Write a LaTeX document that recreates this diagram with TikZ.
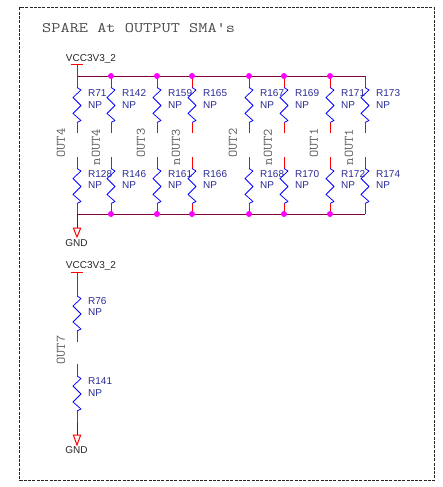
\documentclass[tikz,border=0pt]{standalone}
\usepackage{fontspec}
\setmainfont{Liberation Sans}
\definecolor{railc}{HTML}{800040}
\definecolor{labc}{HTML}{2B2B95}
\definecolor{dotc}{HTML}{FF00FF}
\tikzset{
  x=1pt,y=-1pt,
  pinw/.style={draw=red,line width=1pt},
  railw/.style={draw=railc,line width=1pt},
  zigw/.style={draw=blue,line width=0.75pt},
  junc/.style={circle,fill=dotc,draw=none,minimum size=6pt,inner sep=0pt},
  reflab/.style={anchor=west,inner sep=0pt,text=labc,font=\fontsize{10}{10}\selectfont},
  netlab/.style={inner sep=0pt,text=black!85,font=\fontsize{10}{10}\selectfont},
  vertlab/.style={rotate=90,inner sep=0pt,text=black!65,font=\ttfamily\fontsize{13}{13}\selectfont},
  titlelab/.style={anchor=west,inner sep=0pt,text=black!70,font=\ttfamily\fontsize{14.5}{14.5}\selectfont},
  framew/.style={draw=black!85,line width=1pt,dash pattern=on 3pt off 1.3pt},
  gndtri/.style={draw=red,line width=1pt,line join=miter}
}
\newcommand{\zigzag}[1]{%
  \draw[zigw,line join=round] (#1) -- ++(4,2.5) -- ++(-8,7.5) -- ++(8,8) -- ++(-8,8) -- ++(8,7) -- ++(-4,2);
}
\begin{document}
\begin{tikzpicture}
\useasboundingbox (0,0) rectangle (443,487);
\node[framew,draw,rectangle,inner sep=0pt,minimum width=415pt,minimum height=473pt,anchor=north west] (frame) at (19,7) {};
\node[titlelab] (title) at (42,28) {\scalebox{1.23}[1]{SPARE At OUTPUT SMA's}};

\coordinate (railTL) at (77,76);
\coordinate (railTR) at (365,76);
\coordinate (railBL) at (77,214);
\coordinate (railBR) at (365,214);
\draw[railw] (railTL) -- (railTR);
\draw[railw] (railBL) -- (railBR);

\foreach \nm/\cx/\ra/\rb in {a/77/R71/R128,b/111/R142/R146,c/157/R159/R161,d/192/R165/R166,e/249/R167/R168,f/284/R169/R170,g/330/R171/R172,h/365/R173/R174}{
  \coordinate (\nm T) at (\cx,76);
  \coordinate (\nm A) at (\cx,87.5);
  \coordinate (\nm B) at (\cx,122.5);
  \coordinate (\nm C) at (\cx,133);
  \coordinate (\nm D) at (\cx,157);
  \coordinate (\nm E) at (\cx,168.5);
  \coordinate (\nm F) at (\cx,203.5);
  \coordinate (\nm G) at (\cx,214);
  \draw[pinw] (\nm T) -- (\nm A);
  \draw[pinw] (\nm B) -- (\nm C);
  \draw[pinw] (\nm D) -- (\nm E);
  \draw[pinw] (\nm F) -- (\nm G);
  \zigzag{\nm A}
  \zigzag{\nm E}
  \node[reflab] (\nm r1) at (\cx+11,93) {\ra};
  \node[reflab] (\nm n1) at (\cx+11,105) {NP};
  \node[reflab] (\nm r2) at (\cx+11,174) {\rb};
  \node[reflab] (\nm n2) at (\cx+11,185.5) {NP};
}
\foreach \nm in {b,c,d,e,f,g}{
  \node[junc] (\nm J1) at (\nm T) {};
  \node[junc] (\nm J2) at (\nm G) {};
}

\foreach \nm/\cx/\cy/\tx in {oa/61/143/OUT4,ob/96/147/nOUT4,oc/141/143/OUT3,od/176/147/nOUT3,oe/233/143/OUT2,of/268/147/nOUT2,og/314/143/OUT1,oh/349/147/nOUT1,oi/61/350/OUT7}{
  \node[vertlab] (\nm) at (\cx,\cy) {\scalebox{1.08}[1]{\tx}};
}

\node[netlab] (vcc1) at (91,59.5) {VCC3V3\_2};
\coordinate (vcc1L) at (71,65);
\coordinate (vcc1R) at (83,65);
\coordinate (vcc1P) at (77,65);
\draw[pinw] (vcc1L) -- (vcc1R);
\draw[pinw] (vcc1P) -- (aT);
\coordinate (gnd1T) at (77,228);
\draw[railw] (aG) -- (gnd1T);
\draw[gndtri] (73.3,228) -- (80.7,228) -- (77,237) -- cycle;
\node[netlab] (gnd1) at (76.5,243.5) {GND};

\node[netlab] (vcc2) at (91,266) {VCC3V3\_2};
\coordinate (vcc2L) at (71,272);
\coordinate (vcc2R) at (83,272);
\coordinate (vcc2P) at (77,272);
\coordinate (iA) at (77,296);
\coordinate (iB) at (77,331);
\coordinate (iC) at (77,342);
\coordinate (iD) at (77,364);
\coordinate (iE) at (77,376);
\coordinate (iF) at (77,411);
\coordinate (iG) at (77,423);
\coordinate (gnd2T) at (77,435);
\draw[pinw] (vcc2L) -- (vcc2R);
\draw[pinw] (vcc2P) -- (iA);
\draw[pinw] (iB) -- (iC);
\draw[pinw] (iD) -- (iE);
\draw[pinw] (iF) -- (iG);
\draw[railw] (iG) -- (gnd2T);
\zigzag{iA}
\zigzag{iE}
\draw[gndtri] (73.3,435) -- (80.7,435) -- (77,445) -- cycle;
\node[netlab] (gnd2) at (76.5,450.5) {GND};
\node[reflab] (ir1) at (88,301.5) {R76};
\node[reflab] (in1) at (88,312.5) {NP};
\node[reflab] (ir2) at (88,381.5) {R141};
\node[reflab] (in2) at (88,393) {NP};
\end{tikzpicture}
\end{document}
